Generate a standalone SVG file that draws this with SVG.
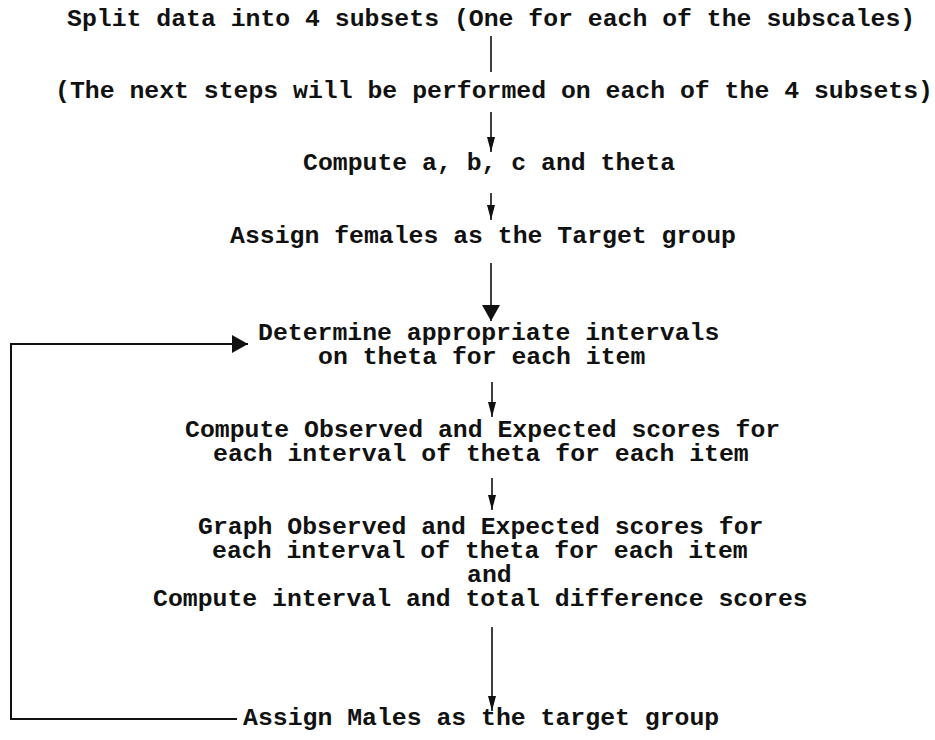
<svg xmlns="http://www.w3.org/2000/svg" width="935" height="740" viewBox="0 0 935 740">
  <style>
    text { font-family: "Liberation Mono", "Courier New", monospace; font-weight: bold; font-size: 24.8px; fill: #111; }
    .ln { stroke: #111; stroke-width: 1.6; fill: none; }
    .loop { stroke: #111; stroke-width: 2; fill: none; }
  </style>
  <defs>
    <marker id="headS" markerUnits="userSpaceOnUse" markerWidth="16" markerHeight="10" refX="15" refY="4.5" orient="auto">
      <path d="M0,0.5 L15,4.5 L0,8.5 Z" fill="#111"/>
    </marker>
    <marker id="headL" markerUnits="userSpaceOnUse" markerWidth="18" markerHeight="20" refX="16" refY="9" orient="auto">
      <path d="M0,0 L16,9 L0,18 Z" fill="#111"/>
    </marker>
  </defs>

  <!-- flow arrows and the loop back for the second target group -->
  <g id="connectors">
    <line class="ln" x1="491" y1="36" x2="491" y2="72"/>
    <line class="ln" x1="491" y1="112" x2="491" y2="152" marker-end="url(#headS)"/>
    <line class="ln" x1="491" y1="193" x2="491" y2="220" marker-end="url(#headS)"/>
    <line class="ln" x1="491" y1="263" x2="491" y2="321" marker-end="url(#headL)"/>
    <line class="ln" x1="492" y1="382" x2="492" y2="417" marker-end="url(#headS)"/>
    <line class="ln" x1="492" y1="478" x2="492" y2="510" marker-end="url(#headS)"/>
    <line class="ln" x1="492" y1="627" x2="492" y2="711" marker-end="url(#headS)"/>
    <polyline class="loop" points="237,719 11,719 11,344 248,344" marker-end="url(#headL)"/>
  </g>

  <g id="split">
    <text x="67" y="26">Split data into 4 subsets (One for each of the subscales)</text>
  </g>
  <g id="note">
    <text x="55" y="98">(The next steps will be performed on each of the 4 subsets)</text>
  </g>
  <g id="compute-params">
    <text x="303" y="170">Compute a, b, c and theta</text>
  </g>
  <g id="assign-females">
    <text x="230" y="243">Assign females as the Target group</text>
  </g>
  <g id="intervals">
    <text x="258" y="340">Determine appropriate intervals<tspan x="318" dy="24">on theta for each item</tspan></text>
  </g>
  <g id="compute-scores">
    <text x="185" y="437">Compute Observed and Expected scores for<tspan x="213" dy="24">each interval of theta for each item</tspan></text>
  </g>
  <g id="graph-scores">
    <text x="198" y="534">Graph Observed and Expected scores for<tspan x="212" dy="24">each interval of theta for each item</tspan><tspan x="467" dy="24">and</tspan><tspan x="153" dy="24">Compute interval and total difference scores</tspan></text>
  </g>
  <g id="assign-males">
    <text x="243" y="725">Assign Males as the target group</text>
  </g>
</svg>
